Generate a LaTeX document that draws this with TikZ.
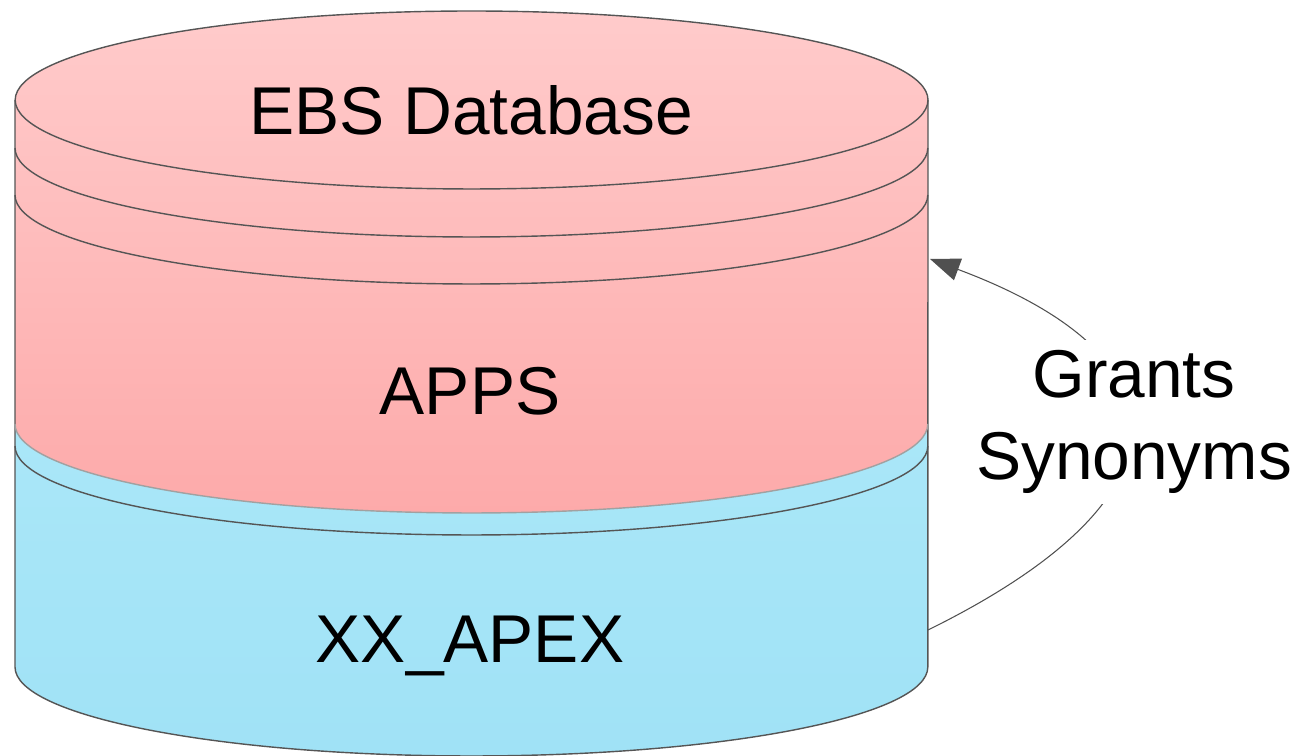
\documentclass[tikz,border=0pt]{standalone}
\usepackage{fontspec}
\setmainfont{Liberation Sans}
\usetikzlibrary{arrows.meta}

\definecolor{pinktop}{HTML}{FFCBCB}
\definecolor{pinkbot}{HTML}{FDAAAA}
\definecolor{bluetop}{HTML}{AAE7F8}
\definecolor{bluebot}{HTML}{A0E2F6}
\definecolor{rimgray}{HTML}{555555}
\definecolor{conngray}{HTML}{505050}

\begin{document}
\begin{tikzpicture}[x=0.02cm, y=0.02cm, x radius=9.13cm, y radius=1.78cm,
  every node/.style={font=\fontsize{38.5}{47}\selectfont},
  rim/.style={draw=rimgray, line width=0.8pt}]

\useasboundingbox (0,0) rectangle (1300,756);

% the two parts of the cylinder

\path[top color=bluetop, bottom color=bluebot] (15,332) -- (15,89) arc[start angle=180, end angle=360] -- (928,332) -- cycle;
\path[top color=pinktop, bottom color=pinkbot] (15,656) -- (15,332) arc[start angle=180, end angle=360] -- (928,656) arc[start angle=0, end angle=180] -- cycle;

% outline and rims

\draw[rim] (15,656) -- (15,89) arc[start angle=180, end angle=360] -- (928,656);
\draw[rim] (928,656) arc[start angle=0, end angle=360];
\draw[rim] (15,608) arc[start angle=180, end angle=360];
\draw[rim] (15,561) arc[start angle=180, end angle=360];
\draw[rim, draw=rimgray!55] (15,332) arc[start angle=180, end angle=360];
\draw[rim] (15,310) arc[start angle=180, end angle=360];

% labels

\node[anchor=base] (ebs) at (471,621) {EBS Database};
\node[anchor=base] (apps) at (470,341) {APPS};
\node[anchor=base] (apex) at (470,93) {XX\_APEX};

% grants

\coordinate (apexside) at (928,126);
\coordinate (appsside) at (930,497);
\draw[conngray, line width=0.6pt, -{Triangle[length=17pt, width=13pt]}] (apexside) .. controls (1200,260) and (1190,400) .. (appsside);
\node[fill=white, align=center, inner sep=0.2cm] (grants) at (1134,334) {Grants\\Synonyms};

\end{tikzpicture}
\end{document}
